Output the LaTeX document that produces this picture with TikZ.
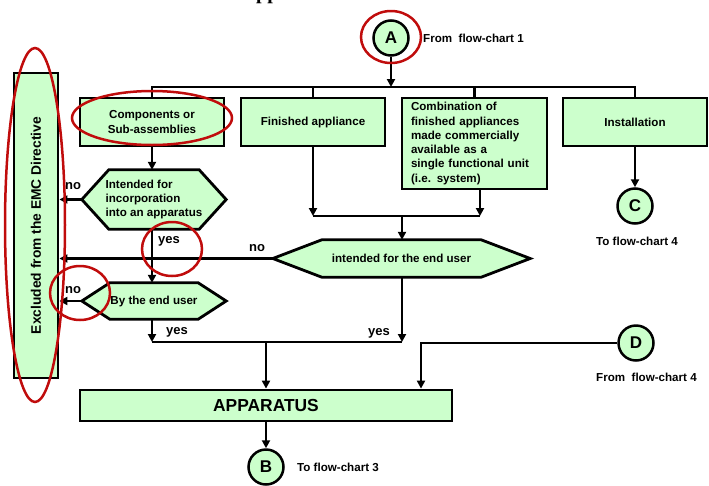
\documentclass[tikz,border=0pt]{standalone}
\usepackage{fontspec}
\setmainfont{Liberation Sans}
\newfontfamily\titlefont{Liberation Serif}
\usetikzlibrary{arrows.meta}
\pgfdeclarelayer{background}
\pgfsetlayers{background,main}
\definecolor{boxgreen}{RGB}{204,255,204}
\definecolor{markred}{RGB}{192,12,12}
\newcommand\myhex[2]{(#1.west) -- ([xshift=#2]#1.north west) -- ([xshift=-#2]#1.north east) -- (#1.east) -- ([xshift=-#2]#1.south east) -- ([xshift=#2]#1.south west) -- cycle}
\tikzset{
  txtfont/.style={font=\fontsize{11.6}{14.3}\selectfont\bfseries},
  lbl/.style={txtfont, inner sep=0pt},
  box/.style={draw, line width=2.8pt, fill=boxgreen, inner sep=0pt, txtfont, align=center},
  hexa/.style={inner sep=0pt, txtfont, align=left},
  hexline/.style={draw, line width=2.8pt, fill=boxgreen},
  conn/.style={line width=2.5pt},
  arr/.style={conn, -{Triangle[length=8pt,width=8pt]}},
  circ/.style={circle, draw, line width=2.5pt, fill=boxgreen, minimum size=35pt, inner sep=0pt, font=\fontsize{17}{17}\selectfont\bfseries},
  yn/.style={font=\fontsize{13}{13}\selectfont\bfseries, inner sep=0pt},
  redring/.style={draw=markred, line width=2.5pt}
}
\begin{document}
\begin{tikzpicture}[x=1pt, y=-1pt]
\useasboundingbox (0,0) rectangle (709,485);

% cropped title (only descenders visible)
\node[font=\titlefont\bfseries\fontsize{20}{20}\selectfont, anchor=base west, inner sep=0pt] (title) at (241.5,-1) {Apparatus};

% boxes
\node[box, rotate=90, minimum width=305, minimum height=44, font=\fontsize{13.8}{14}\selectfont\bfseries] (excl) at (36,225.5) {Excluded from the EMC Directive};
\node[box, minimum width=144, minimum height=48] (comp) at (152,122) {Components or\\Sub-assemblies};
\node[box, minimum width=144, minimum height=48] (fin) at (313,122) {Finished appliance};
\node[box, minimum width=145, minimum height=91, align=left, text width=127] (comb) at (474.5,143.5) {Combination of\\finished appliances\\made commercially\\available as a\\single functional unit\\(i.e. system)};
\node[box, minimum width=144, minimum height=48] (inst) at (635,122) {Installation};
\node[box, minimum width=372, minimum height=31, font=\fontsize{17.4}{18}\selectfont\bfseries] (app) at (266,405.5) {APPARATUS};

% decision hexagons
\node[hexa, minimum width=144, minimum height=59] (inc) at (154,199.5) {Intended for\\incorporation\\into an apparatus};
\node[hexa, minimum width=257, minimum height=37] (euser) at (401.5,258.5) {intended for the end user};
\node[hexa, minimum width=144, minimum height=36] (byend) at (154,301) {By the end user};
\begin{pgfonlayer}{background}
\draw[hexline] \myhex{inc}{27};
\draw[hexline] \myhex{euser}{49};
\draw[hexline] \myhex{byend}{28};
\end{pgfonlayer}

% connectors (circles)
\node[circ] (A) at (391,38) {A};
\node[circ] (C) at (635,206) {C};
\node[circ] (D) at (636,343) {D};
\node[circ] (B) at (266,467) {B};

% side labels
\node[lbl, anchor=west] (fromA) at (423,38) {From~~flow-chart 1};
\node[lbl] (toC) at (637,241) {To flow-chart 4};
\node[lbl, anchor=west] (fromD) at (596,377) {From~~flow-chart 4};
\node[lbl, anchor=west] (toB) at (297,467) {To flow-chart 3};

% yes / no labels
\node[yn] (no1) at (73,186) {no};
\node[yn] (yes1) at (169,241) {yes};
\node[yn] (no2) at (257,248) {no};
\node[yn] (no3) at (73,290) {no};
\node[yn] (yes2) at (177,332) {yes};
\node[yn] (yes3) at (379,333) {yes};

% bus points
\coordinate (busA) at (391,87);
\coordinate (busB) at (402,216);
\coordinate (busC) at (266,342);

% lines
\draw[arr] (A) -- (busA);
\draw[conn] (comp.north) |- (busA) -| (inst.north);
\draw[conn] (fin.north) -- (fin.north |- busA);
\draw[conn] (comb.north) -- (comb.north |- busA);

\draw[arr] (comp.south) -- (comp.south |- inc.north);
\draw[arr] (inc.west) -- (inc.west -| excl.south);
\draw[arr] (comp.south |- inc.south) -- (comp.south |- byend.north);

\draw[arr] (fin.south) -- (fin.south |- busB);
\draw[arr] ([xshift=5.5]comb.south) -- ([xshift=5.5]comb.south |- busB);
\draw[conn] (fin.south |- busB) -- ([xshift=5.5]comb.south |- busB);
\draw[arr] (busB) -- (busB |- euser.north);

\draw[arr] (euser.west) -- (euser.west -| excl.south);
\draw[arr] (busB |- euser.south) -- (busB |- busC);
\draw[arr] (byend.west) -- (byend.west -| excl.south);
\draw[arr] (comp.south |- byend.south) -- (comp.south |- busC);
\draw[conn] (comp.south |- busC) -- (busB |- busC);
\draw[arr] (busC) -- (app.north);
\draw[arr] (D.west) -| ([xshift=155]app.north);
\draw[arr] (app.south) -- (B);
\draw[arr] (inst.south) -- (inst.south |- C.north);

% red annotation rings
\draw[redring] (35,225) ellipse [x radius=30, y radius=177];
\draw[redring] (391,37) ellipse [x radius=30, y radius=26];
\draw[redring] (152,118) ellipse [x radius=80, y radius=27];
\draw[redring] (172,249) ellipse [x radius=30, y radius=27];
\draw[redring] (80,293) ellipse [x radius=30, y radius=27];
\end{tikzpicture}
\end{document}
